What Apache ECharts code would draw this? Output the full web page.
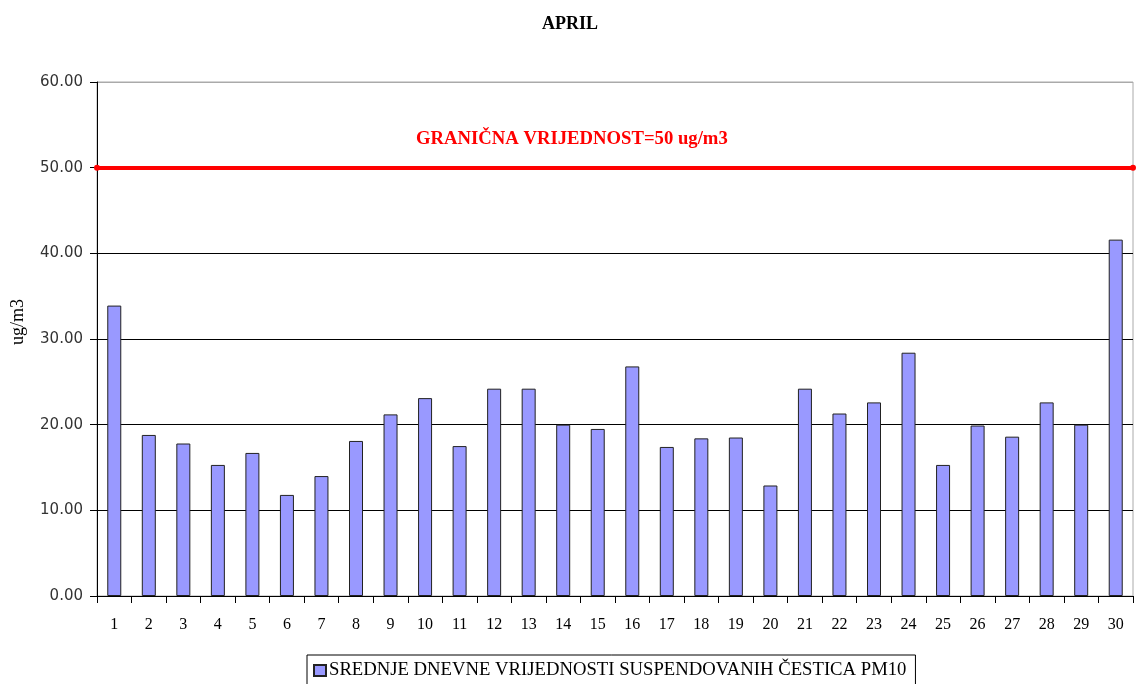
<!DOCTYPE html>
<html>
<head>
<meta charset="utf-8">
<script src="https://cdn.jsdelivr.net/npm/echarts@6/dist/echarts.min.js"></script>
<style>
html,body{margin:0;padding:0;background:#fff;}
#main{width:1138px;height:684px;}
</style>
</head>
<body>
<div id="main"></div>
<script>
// dani u mjesecu
var days = ['1','2','3','4','5','6','7','8','9','10','11','12','13','14','15','16','17','18','19','20','21','22','23','24','25','26','27','28','29','30'];
// srednje dnevne vrijednosti PM10 (ug/m3)
var pm10 = [33.9, 18.8, 17.8, 15.3, 16.7, 11.8, 14.0, 18.1, 21.2, 23.1, 17.5, 24.2, 24.2, 20.0, 19.5, 26.8, 17.4, 18.4, 18.5, 12.9, 24.2, 21.3, 22.6, 28.4, 15.3, 19.9, 18.6, 22.6, 20.0, 41.6];
var limitValue = 50;
var seriesName = 'SREDNJE DNEVNE VRIJEDNOSTI SUSPENDOVANIH ČESTICA PM10';
var limitText = 'GRANIČNA VRIJEDNOST=50 ug/m3';
var unitName = 'ug/m3';

var serif = '"Liberation Serif", "Times New Roman", serif';

var chart = echarts.init(document.getElementById('main'));
var option = {
	backgroundColor : '#fff',
	animation : false,
	title : {
		text : 'APRIL',
		left : 565,
		top : 10,
		textAlign : 'center',
		textStyle : {
			fontFamily : serif,
			fontSize : 18,
			fontWeight : 'bold',
			color : '#000'
		}
	},
	graphic : [{
		type : 'text',
		left : 416,
		top : 130,
		style : {
			text : limitText,
			fill : '#ff0000',
			font : 'bold 18.7px ' + serif
		}
	},{
		//naziv y ose
		type : 'text',
		x : 9,
		y : 345,
		rotation : Math.PI / 2,
		style : {
			text : unitName,
			fill : '#000',
			font : '18px ' + serif
		}
	}],
	legend : {
		left : 307,
		top : 655,
		itemWidth : 12,
		itemHeight : 11,
		padding : [6, 9, 6, 6],
		borderColor : '#000',
		borderWidth : 1,
		data : [{name : seriesName, icon : 'rect'}],
		textStyle : {
			fontFamily : serif,
			fontSize : 18.7,
			color : '#000',
			padding : [0, 0, 0, -2]
		}
	},
	grid : {
		left : 97,
		right : 5,
		top : 82,
		bottom : 88,
		show : true,
		borderColor : '#aaa',
		borderWidth : 1,
		backgroundColor : '#fff'
	},
	xAxis : {
		type : 'category',
		data : days,
		boundaryGap : true,
		axisLine : {lineStyle : {color : '#000', width : 1}},
		axisTick : {show : true, length : 7, alignWithLabel : false, lineStyle : {color : '#000'}},
		axisLabel : {
			fontFamily : serif,
			fontSize : 16,
			color : '#000',
			margin : 21
		}
	},
	yAxis : {
		type : 'value',
		min : 0,
		max : 60,
		interval : 10,
		axisLine : {show : true, lineStyle : {color : '#000', width : 1}},
		axisTick : {show : true, length : 7, lineStyle : {color : '#000'}},
		axisLabel : {
			fontFamily : '"DejaVu Sans", sans-serif',
			fontSize : 15,
			color : '#333',
			margin : 14,
			formatter : function(v){ return v.toFixed(2); }
		},
		splitLine : {
			show : true,
			lineStyle : {
				color : ['#000', '#000', '#000', '#000', '#000', '#000', '#aaa'],
				width : 1
			}
		}
	},
	series : [{
		name : seriesName,
		type : 'bar',
		data : pm10,
		barWidth : 14,
		itemStyle : {
			color : '#9999ff',
			borderColor : '#222',
			borderWidth : 1
		},
		markLine : {
			silent : true,
			symbol : ['circle', 'circle'],
			symbolSize : 6,
			label : {show : false},
			lineStyle : {color : '#ff0000', width : 4, type : 'solid'},
			data : [{yAxis : limitValue}]
		}
	}]
};
chart.setOption(option);
</script>
</body>
</html>
